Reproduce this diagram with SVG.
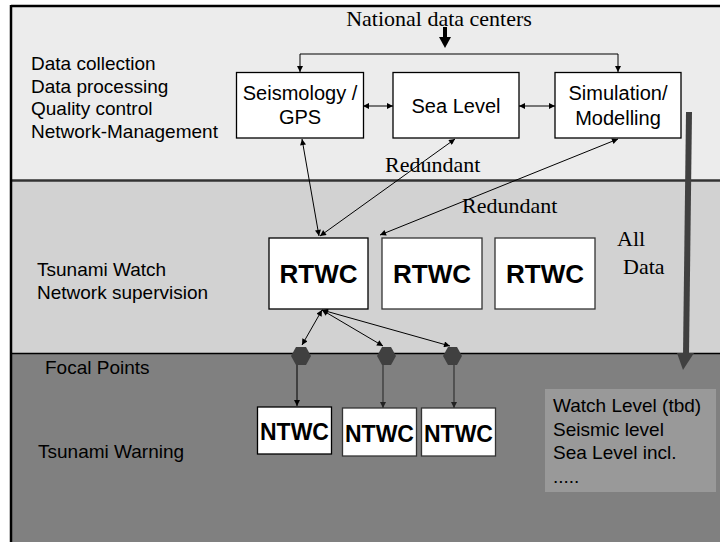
<svg xmlns="http://www.w3.org/2000/svg" width="720" height="542" viewBox="0 0 720 542">
<defs>
<marker id="ah" viewBox="0 0 10 10" refX="10" refY="5" markerWidth="7" markerHeight="6" markerUnits="userSpaceOnUse" orient="auto-start-reverse">
<path d="M0,0 L10,5 L0,10 z" fill="#000"/>
</marker>
<marker id="ahg" viewBox="0 0 10 10" refX="10" refY="5" markerWidth="7" markerHeight="6" markerUnits="userSpaceOnUse" orient="auto-start-reverse">
<path d="M0,0 L10,5 L0,10 z" fill="#222"/>
</marker>
</defs>
<style>
.sans{font-family:"Liberation Sans",Arial,sans-serif;font-size:19px;fill:#000}
.box{font-family:"Liberation Sans",Arial,sans-serif;font-size:20px;fill:#000;text-anchor:middle}
.bold{font-family:"Liberation Sans",Arial,sans-serif;font-weight:bold;fill:#000;text-anchor:middle}
.serif{font-family:"Liberation Serif","Times New Roman",serif;font-size:22px;fill:#000}
.node{fill:#fff;stroke:#000;stroke-width:1.3}
.node2{fill:#fff;stroke:#333;stroke-width:1.3}
.ln{fill:none;stroke:#000;stroke-width:1}
.lng{fill:none;stroke:#333;stroke-width:1.2}
.hex{fill:#404040}
</style>
<rect x="0" y="0" width="720" height="542" fill="#fff"/>
<g id="bands">
<rect x="11" y="6" width="709" height="174" fill="#ececec"/>
<rect x="11" y="180" width="709" height="173" fill="#d2d2d2"/>
<rect x="11" y="353" width="709" height="189" fill="#808080"/>
<line x1="11" y1="180.5" x2="720" y2="180.5" stroke="#333" stroke-width="2.7"/>
<line x1="11" y1="353.5" x2="720" y2="353.5" stroke="#000" stroke-width="1.5"/>
<line x1="11" y1="6" x2="720" y2="6" stroke="#000" stroke-width="2.5"/>
<line x1="11" y1="5" x2="11" y2="542" stroke="#000" stroke-width="2.5"/>
</g>
<g id="labels">
<text class="sans" x="31" y="70">Data collection</text>
<text class="sans" x="31" y="93">Data processing</text>
<text class="sans" x="31" y="115">Quality control</text>
<text class="sans" x="31" y="138">Network-Management</text>
<text class="sans" x="37" y="276">Tsunami Watch</text>
<text class="sans" x="37" y="299">Network supervision</text>
<text class="sans" x="45" y="374" fill="#111">Focal Points</text>
<text class="sans" x="38" y="458" fill="#111">Tsunami Warning</text>
<text class="serif" x="439" y="26" text-anchor="middle" fill="#777">National data centers</text>
<text class="serif" x="385" y="172">Redundant</text>
<text class="serif" x="462" y="213">Redundant</text>
<text class="serif" x="617" y="246">All</text>
<text class="serif" x="623" y="274">Data</text>
</g>
<g id="info">
<rect x="545" y="389" width="171" height="103" fill="#999"/>
<text class="sans" x="553" y="412" fill="#1a1a1a">Watch Level (tbd)</text>
<text class="sans" x="553" y="436" fill="#1a1a1a">Seismic level</text>
<text class="sans" x="553" y="459" fill="#1a1a1a">Sea Level incl.</text>
<text class="sans" x="553" y="483" fill="#1a1a1a">.....</text>
</g>
<g id="connectors">
<path d="M445,27 V38" stroke="#000" stroke-width="4"/>
<path d="M439,37 L451,37 L445,48 z" fill="#000"/>
<path class="ln" d="M300,72 V54 H618 V72" marker-start="url(#ah)" marker-end="url(#ah)"/>
<line class="ln" x1="363" y1="106" x2="393" y2="106" marker-start="url(#ah)" marker-end="url(#ah)"/>
<line class="ln" x1="519" y1="106" x2="555" y2="106" marker-start="url(#ah)" marker-end="url(#ah)"/>
<line class="ln" x1="302" y1="139" x2="319" y2="236" marker-start="url(#ah)" marker-end="url(#ah)"/>
<line class="ln" x1="455" y1="139" x2="320" y2="236" marker-start="url(#ah)" marker-end="url(#ah)"/>
<line class="ln" x1="618" y1="139" x2="380" y2="235" marker-start="url(#ah)" marker-end="url(#ah)"/>
<line class="ln" x1="322" y1="310" x2="302" y2="345" marker-start="url(#ah)" marker-end="url(#ah)"/>
<line class="ln" x1="322" y1="310" x2="383" y2="346" marker-start="url(#ah)" marker-end="url(#ah)"/>
<line class="ln" x1="322" y1="310" x2="450" y2="346" marker-start="url(#ah)" marker-end="url(#ah)"/>
<line class="ln" x1="297" y1="362" x2="297" y2="406" marker-end="url(#ah)"/>
<line class="lng" x1="383" y1="362" x2="383" y2="408" marker-end="url(#ahg)"/>
<line class="lng" x1="454" y1="362" x2="454" y2="408" marker-end="url(#ahg)"/>
<path d="M689,112 L686,355" stroke="#404040" stroke-width="6" fill="none"/>
<path d="M677,353 L694,353 L683,370 z" fill="#404040"/>
</g>
<g id="hex1"><polygon class="hex" points="291,356 296,347 306,347 311,356 306,365 296,365"/></g>
<g id="hex2"><polygon class="hex" points="377,356 382,347 391,347 396,356 391,365 382,365"/></g>
<g id="hex3"><polygon class="hex" points="443,356 448,347 457,347 462,356 457,365 448,365"/></g>
<g id="seismology">
<rect class="node" x="236.5" y="72.5" width="127" height="65.5"/>
<text class="box" x="300" y="100">Seismology /</text>
<text class="box" x="300" y="124">GPS</text>
</g>
<g id="sealevel">
<rect class="node" x="393" y="72.5" width="126" height="65.5"/>
<text class="box" x="456" y="113">Sea Level</text>
</g>
<g id="simulation">
<rect class="node" x="555" y="72.5" width="126" height="65.5"/>
<text class="box" x="618" y="100">Simulation/</text>
<text class="box" x="618" y="125">Modelling</text>
</g>
<g id="rtwc1">
<rect class="node" x="269" y="238" width="99" height="71"/>
<text class="bold" x="318.5" y="283" font-size="26">RTWC</text>
</g>
<g id="rtwc2">
<rect class="node2" x="382" y="238" width="100" height="71"/>
<text class="bold" x="432" y="283" font-size="26">RTWC</text>
</g>
<g id="rtwc3">
<rect class="node2" x="495" y="238" width="100" height="71"/>
<text class="bold" x="545" y="283" font-size="26">RTWC</text>
</g>
<g id="ntwc1">
<rect class="node" x="257.5" y="407" width="74" height="47"/>
<text class="bold" x="294.5" y="440" font-size="23">NTWC</text>
</g>
<g id="ntwc2">
<rect class="node2" x="342.5" y="408" width="74" height="48"/>
<text class="bold" x="379.5" y="442" font-size="23">NTWC</text>
</g>
<g id="ntwc3">
<rect class="node2" x="421.5" y="408" width="74" height="48"/>
<text class="bold" x="458.5" y="442" font-size="23">NTWC</text>
</g>
</svg>
